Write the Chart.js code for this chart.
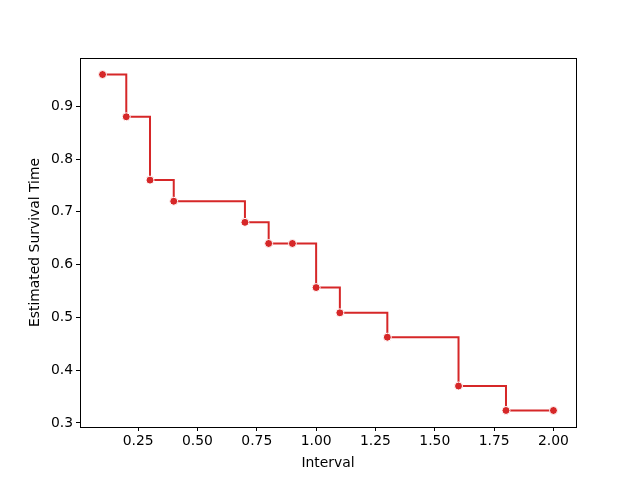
<!DOCTYPE html>
<html><head><meta charset="utf-8">
<script src="https://cdn.jsdelivr.net/npm/chart.js@4/dist/chart.umd.min.js"></script>
<style>html,body{margin:0;padding:0;background:#fff}#wrap{width:640px;height:480px}</style>
</head><body><div id="wrap"><canvas id="c" width="640" height="480"></canvas></div>
<script>
const intervals = [0.1, 0.2, 0.3, 0.4, 0.7, 0.8, 0.9, 1.0, 1.1, 1.3, 1.6, 1.8, 2.0];
const survival = [0.96, 0.88, 0.76, 0.72, 0.68, 0.64, 0.64, 0.5565, 0.5087, 0.4625, 0.370, 0.3237, 0.3237];
const xTicks = [0.25, 0.5, 0.75, 1.0, 1.25, 1.5, 1.75, 2.0];
const yTicks = [0.3, 0.4, 0.5, 0.6, 0.7, 0.8, 0.9];

const font = {family: 'DejaVu Sans', size: 13.9};
const frame = {
  id: 'frame',
  afterDraw(chart) {
    const {ctx, chartArea: a} = chart;
    ctx.save();
    ctx.strokeStyle = '#000';
    ctx.lineWidth = 1;
    ctx.strokeRect(Math.round(a.left) + 0.5, Math.round(a.top) + 0.5, Math.round(a.right - a.left), Math.round(a.bottom - a.top));
    ctx.restore();
  }
};

new Chart(document.getElementById('c'), {
  type: 'line',
  data: {
    datasets: [{
      data: intervals.map((x, i) => ({x, y: survival[i]})),
      borderColor: '#d62728',
      backgroundColor: '#d62728',
      borderWidth: 2,
      stepped: 'before',
      pointRadius: 4,
      pointBorderColor: '#ffffff',
      pointBorderWidth: 1,
      pointBackgroundColor: '#d62728',
      fill: false
    }]
  },
  options: {
    responsive: false,
    animation: false,
    layout: {padding: {left: 0, top: 58, right: 64, bottom: 0}},
    plugins: {legend: {display: false}, tooltip: {enabled: false}},
    scales: {
      x: {
        type: 'linear',
        min: 0.005, max: 2.095,
        afterBuildTicks: s => { s.ticks = xTicks.map(v => ({value: v})); },
        afterFit: s => { s.height = 53; },
        ticks: {color: '#000', font, padding: 2, maxRotation: 0, callback: v => v.toFixed(2)},
        grid: {drawOnChartArea: false, drawTicks: true, tickLength: 4, tickColor: '#000'},
        border: {display: false},
        title: {display: true, text: 'Interval', color: '#000', font, padding: {top: 0, bottom: 8}}
      },
      y: {
        type: 'linear',
        min: 0.2924, max: 0.9913,
        afterBuildTicks: s => { s.ticks = yTicks.map(v => ({value: v})); },
        afterFit: s => { s.width = 80; },
        ticks: {color: '#000', font, padding: 3, callback: v => v.toFixed(1)},
        grid: {drawOnChartArea: false, drawTicks: true, tickLength: 4, tickColor: '#000'},
        border: {display: false},
        title: {display: true, text: 'Estimated Survival Time', color: '#000', font, padding: {top: 27, bottom: 4}}
      }
    }
  },
  plugins: [frame]
});
</script></body></html>
